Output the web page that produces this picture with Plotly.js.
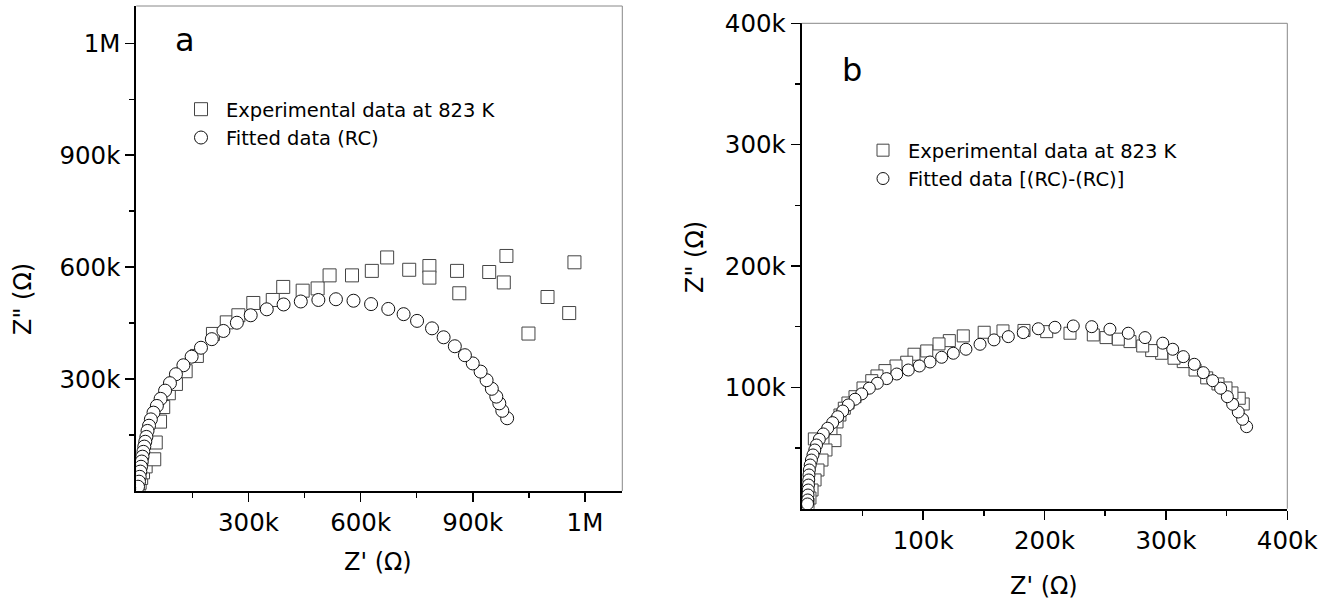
<!DOCTYPE html>
<html>
<head>
<meta charset="utf-8">
<script src="https://cdn.plot.ly/plotly-3.0.1.min.js"></script>
<style>html,body{margin:0;padding:0;background:#fff;}#chart{width:1334px;height:601px;}</style>
</head>
<body>
<div id="chart"></div>
<script>
// ---------- Panel a data (ohm) ----------
var aExpX = [4, 6, 9, 13, 18, 25, 48, 52, 63.5, 72, 87, 106, 132, 162, 205, 242, 273, 313, 365, 393, 445, 485, 517, 577, 630, 671, 730, 784, 784, 858, 864, 944, 983, 990, 1049, 1100, 1158, 1172].map(function(v){return v*1000;});
var aExpY = [5, 12, 22, 35, 50, 66, 85, 130, 186, 225, 262, 287, 321, 362, 421, 452, 471, 504, 512, 547, 537, 543, 578, 578, 590, 626, 593, 603, 572, 590, 530, 587, 559, 630, 422, 520, 477, 613].map(function(v){return v*1000;});
var aFitX = [992, 979, 971, 963, 951, 937, 921, 900, 879, 852, 822, 791, 751, 715, 674, 628, 581, 534, 487, 440, 394, 349, 306, 269, 233, 202, 173, 148, 126, 106, 90, 77, 65, 55, 46, 39, 34, 30, 27, 24, 21.4, 18.8, 16.6, 14.5, 12.6, 10.7, 9.1, 7.2, 4.6].map(function(v){return v*1000;});
var aFitY = [195, 215, 235, 253, 274, 297, 320, 342, 364, 388, 412, 436, 456, 474, 488, 501, 510, 514, 512, 508, 500, 487, 471, 451, 429, 407, 384, 360, 337, 313, 289, 269, 247, 228, 210, 192, 175, 161, 145, 132, 119, 105, 92, 79, 65, 52, 38, 25, 11.5].map(function(v){return v*1000;});

// ---------- Panel b data (ohm) ----------
var bExpX = [363.7, 360.4, 354.4, 349.5, 342.9, 333.6, 324.0, 314.3, 306.7, 296.5, 288.3, 280.9, 270.4, 260.8, 250.7, 240.2, 221.0, 201.8, 183.1, 165.8, 150.3, 133.1, 121.6, 113.1, 103.0, 92.5, 86.5, 77.7, 68.6, 62.0, 57.7, 50.5, 43.9, 38.1, 35.1, 31.5, 29.1, 24.1, 27.4, 10.4, 20.0, 16.7, 13.4, 11.0, 8.5, 6.8, 5.2].map(function(v){return v*1000;});
var bExpY = [86.3, 91.0, 95.4, 99.5, 102.8, 107.8, 114.3, 121.2, 124.0, 128.1, 130.3, 134.1, 137.7, 139.7, 141.0, 143.2, 144.6, 145.9, 146.9, 146.5, 145.4, 142.4, 138.5, 135.8, 130.0, 127.3, 120.7, 117.6, 113.8, 109.4, 105.5, 99.5, 92.3, 87.1, 82.8, 77.2, 71.5, 64.9, 56.1, 57.5, 48.4, 40.1, 31.9, 23.7, 15.4, 8.8, 3.9].map(function(v){return v*1000;});
var bFitX = [366.5, 363.2, 359.6, 355.0, 350.6, 345.1, 338.5, 330.8, 323.4, 314.3, 305.6, 297.4, 282.8, 269.0, 253.9, 238.9, 223.7, 208.6, 194.9, 182.5, 170.2, 158.4, 146.9, 135.3, 124.9, 115.3, 105.7, 96.9, 87.8, 78.3, 70.0, 62.3, 55.7, 49.4, 43.9, 38.4, 33.8, 29.7, 25.5, 21.4, 17.8, 14.5, 12.2, 10.8, 9.3, 8.0, 7.0, 6.3, 6.0, 5.8, 5.6, 5.4, 5.2, 5.0, 4.8].map(function(v){return v*1000;});
var bFitY = [67.6, 73.7, 79.7, 86.1, 92.3, 99.3, 105.5, 112.1, 119.0, 125.3, 131.4, 136.4, 141.0, 144.6, 147.9, 150.0, 150.6, 149.5, 148.3, 145.1, 141.8, 139.1, 135.5, 131.4, 128.1, 124.8, 120.9, 117.6, 114.3, 111.0, 107.2, 103.4, 99.3, 94.6, 90.2, 85.5, 80.5, 75.8, 70.9, 66.3, 61.6, 57.2, 52.5, 48.4, 44.3, 40.1, 36.0, 31.9, 27.8, 23.7, 19.5, 15.4, 11.3, 7.2, 3.9].map(function(v){return v*1000;});

// ---------- Tick values / labels ----------
var aTickVals = [300000, 600000, 900000, 1200000];
var aTickText = ['300k', '600k', '900k', '1M'];
var aMinorVals = [150000, 450000, 750000, 1050000];
var bTickVals = [100000, 200000, 300000, 400000];
var bTickText = ['100k', '200k', '300k', '400k'];
var bMinorVals = [50000, 150000, 250000, 350000];

var legendNamesA = ['Experimental data at 823 K', 'Fitted data (RC)'];
var legendNamesB = ['Experimental data at 823 K', 'Fitted data [(RC)-(RC)]'];

var W = 1334, H = 601;
function px(x){ return x / W; }
function py(y){ return 1 - y / H; }

var FONT = 'DejaVu Sans, Arial, sans-serif';

var sqMarker = function(sz){ return {symbol:'square', size:sz, color:'#ffffff', line:{color:'#444444', width:1}}; };
var ciMarker = function(sz){ return {symbol:'circle', size:sz, color:'#ffffff', line:{color:'#111111', width:1}}; };

var traces = [
  {x:aExpX, y:aExpY, type:'scatter', mode:'markers', name:legendNamesA[0], xaxis:'x', yaxis:'y', marker:sqMarker(13), legend:'legend'},
  {x:aFitX, y:aFitY, type:'scatter', mode:'markers', name:legendNamesA[1], xaxis:'x', yaxis:'y', marker:ciMarker(13), legend:'legend'},
  {x:bExpX, y:bExpY, type:'scatter', mode:'markers', name:legendNamesB[0], xaxis:'x2', yaxis:'y2', marker:sqMarker(12), legend:'legend2'},
  {x:bFitX, y:bFitY, type:'scatter', mode:'markers', name:legendNamesB[1], xaxis:'x2', yaxis:'y2', marker:ciMarker(12), legend:'legend2'}
];

function axisBase(extra){
  var a = {
    showline:true, linewidth:2, linecolor:'#000', mirror:false,
    ticks:'outside', ticklen:9, tickwidth:1.5, tickcolor:'#000',
    tickfont:{family:FONT, size:24.5, color:'#000'},
    showgrid:false, zeroline:false, fixedrange:true
  };
  for (var k in extra) a[k] = extra[k];
  return a;
}

var minorStyle = function(vals){ return {tickvals:vals, ticklen:5, tickwidth:1.5, tickcolor:'#000', ticks:'outside', showgrid:false}; };

var layout = {
  width:W, height:H,
  margin:{l:0, r:0, t:0, b:0},
  paper_bgcolor:'#fff', plot_bgcolor:'#fff',
  font:{family:FONT, color:'#000'},
  showlegend:true,
  xaxis: axisBase({domain:[px(136.3), px(622.3)], range:[0, 1300000], anchor:'y', tickmode:'array', tickvals:aTickVals, ticktext:aTickText, minor:minorStyle(aMinorVals)}),
  yaxis: axisBase({domain:[py(491), py(6)], range:[0, 1300000], anchor:'x', tickmode:'array', tickvals:aTickVals, ticktext:aTickText, minor:minorStyle(aMinorVals)}),
  xaxis2: axisBase({domain:[px(801.7), px(1287.3)], range:[0, 400000], anchor:'y2', tickmode:'array', tickvals:bTickVals, ticktext:bTickText, minor:minorStyle(bMinorVals)}),
  yaxis2: axisBase({domain:[py(508.7), py(23.3)], range:[0, 400000], anchor:'x2', tickmode:'array', tickvals:bTickVals, ticktext:bTickText, minor:minorStyle(bMinorVals)}),
  legend: {x:px(176), y:py(90), xanchor:'left', yanchor:'top', bgcolor:'rgba(0,0,0,0)', borderwidth:0,
           font:{family:FONT, size:19.5, color:'#000'}, itemwidth:40, tracegroupgap:0},
  legend2: {x:px(858), y:py(131), xanchor:'left', yanchor:'top', bgcolor:'rgba(0,0,0,0)', borderwidth:0,
           font:{family:FONT, size:19.5, color:'#000'}, itemwidth:40, tracegroupgap:0},
  shapes: [
    {type:'line', xref:'x domain', yref:'y domain', x0:0, x1:1, y0:1, y1:1, line:{color:'#888', width:1}},
    {type:'line', xref:'x domain', yref:'y domain', x0:1, x1:1, y0:0, y1:1, line:{color:'#888', width:1}},
    {type:'line', xref:'x2 domain', yref:'y2 domain', x0:0, x1:1, y0:1, y1:1, line:{color:'#888', width:1}},
    {type:'line', xref:'x2 domain', yref:'y2 domain', x0:1, x1:1, y0:0, y1:1, line:{color:'#888', width:1}}
  ],
  annotations: [
    {text:'a', xref:'paper', yref:'paper', x:px(185), y:py(40), xanchor:'center', yanchor:'middle', showarrow:false, font:{family:FONT, size:32, color:'#000'}},
    {text:'b', xref:'paper', yref:'paper', x:px(852), y:py(70), xanchor:'center', yanchor:'middle', showarrow:false, font:{family:FONT, size:32, color:'#000'}},
    {text:"Z' (Ω)", xref:'paper', yref:'paper', x:px(378), y:py(562), xanchor:'center', yanchor:'middle', showarrow:false, font:{family:FONT, size:24, color:'#000'}},
    {text:'Z" (Ω)', xref:'paper', yref:'paper', x:px(23), y:py(299), xanchor:'center', yanchor:'middle', textangle:-90, showarrow:false, font:{family:FONT, size:24, color:'#000'}},
    {text:"Z' (Ω)", xref:'paper', yref:'paper', x:px(1044), y:py(586), xanchor:'center', yanchor:'middle', showarrow:false, font:{family:FONT, size:24, color:'#000'}},
    {text:'Z" (Ω)', xref:'paper', yref:'paper', x:px(695), y:py(257), xanchor:'center', yanchor:'middle', textangle:-90, showarrow:false, font:{family:FONT, size:24, color:'#000'}}
  ]
};

Plotly.newPlot('chart', traces, layout, {staticPlot:true, displayModeBar:false});
</script>
</body>
</html>
